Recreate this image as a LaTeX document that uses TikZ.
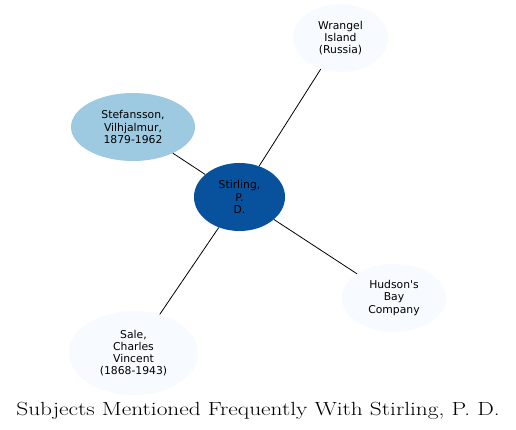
\documentclass[tikz,border=0pt]{standalone}
\usepackage{fontspec}
\newfontfamily\nodefont{DejaVu Sans}
\usetikzlibrary{shapes.geometric}
\definecolor{dark}{HTML}{08519C}
\definecolor{mid}{HTML}{9ECAE1}
\definecolor{pale}{HTML}{F7FBFF}
\begin{document}
\begin{tikzpicture}[x=1pt,y=-1pt,
  subj/.style={ellipse,inner sep=0pt,align=center,font=\nodefont\fontsize{10.8}{12.2}\selectfont,text=black},
  link/.style={draw=black,line width=0.8pt}]
\useasboundingbox (0,0) rectangle (516,430);
\fill[white] (0,0) rectangle (516,430);
\node[subj,fill=pale,minimum width=95,minimum height=68] (wr) at (340.5,38) {Wrangel\\Island\\(Russia)};
\node[subj,fill=mid,minimum width=124,minimum height=68] (st) at (133,127) {Stefansson,\\Vilhjalmur,\\1879-1962};
\node[subj,fill=dark,minimum width=91,minimum height=68] (pd) at (239.5,197) {Stirling,\\P.\\D.};
\node[subj,fill=pale,minimum width=104,minimum height=68] (hb) at (394,298) {Hudson's\\Bay\\Company};
\node[subj,fill=pale,minimum width=129,minimum height=84] (sa) at (133.5,353) {Sale,\\Charles\\Vincent\\(1868-1943)};
\draw[link] (pd) -- (wr);
\draw[link] (pd) -- (st);
\draw[link] (pd) -- (hb);
\draw[link] (pd) -- (sa);
\node[anchor=base,inner sep=0pt,font=\fontsize{19}{21}\selectfont] (title) at (258,415) {\scalebox{1.23}[1]{Subjects Mentioned Frequently With Stirling, P. D.}};
\end{tikzpicture}
\end{document}
